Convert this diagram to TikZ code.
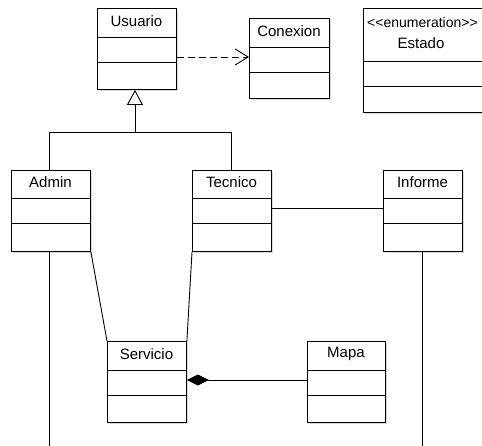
\documentclass[tikz,border=0pt]{standalone}
\usepackage{fontspec}
\setmainfont{Liberation Sans}
\newfontfamily\rawsans{Liberation Sans}[Ligatures=ResetAll]
\usetikzlibrary{arrows.meta,calc}
\tikzset{
  cls/.style={draw=black, line width=0.9pt, fill=white, anchor=north west, inner sep=0pt},
  shadowbox/.style={fill=black!15, draw=none},
  div/.style={line width=0.9pt},
  lbl/.style={font=\fontsize{15}{17}\selectfont, inner sep=0pt, anchor=center},
  conn/.style={line width=0.9pt, draw=black},
}
% \umlcls{name}{x1}{y1}{x2}{y2}{d1}{d2}{label}
\newcommand{\umlcls}[8]{%
  \fill[shadowbox] (#2+2,#3+2) rectangle (#4+2,#5+2);
  \node[cls, minimum width=#4-#2, minimum height=#5-#3] (#1) at (#2,#3) {};
  \draw[div] (#2,#6) -- (#4,#6);
  \draw[div] (#2,#7) -- (#4,#7);
  \node[lbl] (#1-name) at ({(#2+#4)/2},{(#3+#6)/2-1.5}) {#8};
}
\begin{document}
\begin{tikzpicture}[x=1pt,y=-1pt]
\useasboundingbox (0,0) rectangle (482,445);
\clip (0,0) rectangle (482,445);
\fill[white] (0,0) rectangle (482,445);

\umlcls{usuario}{97}{8}{176}{89}{37}{62}{Usuario}
\umlcls{conexion}{249}{18}{329}{98}{47}{72}{Conexion}
% Estado enumeration
\fill[shadowbox] (365,10) rectangle (490,114);
\node[cls, minimum width=125, minimum height=104] (estado) at (363,8) {};
\draw[div] (363,61) -- (488,61);
\draw[div] (363,86) -- (488,86);
\node[lbl, anchor=west, font=\rawsans\fontsize{14}{16}\selectfont] (estado-st) at (367,22) {<<enumeration>>};
\node[lbl] (estado-name) at (421,43) {Estado};

\umlcls{admin}{11}{170}{90}{251}{198}{223}{Admin}
\umlcls{tecnico}{192}{170}{271}{251}{198}{223}{Tecnico}
\umlcls{informe}{383}{170}{462}{251}{198}{223}{Informe}
\umlcls{servicio}{107}{341}{186}{422}{370}{395}{Servicio}
\umlcls{mapa}{307}{341}{385}{422}{370}{395}{Mapa}

% dependency
\draw[conn, dash pattern=on 7pt off 4pt, -{Straight Barb[length=13pt,width=16pt,line width=0.9pt]}]
  (usuario.east |- 0,57) -- (conexion.west |- 0,57);

% generalization
\coordinate (junc) at (135,132);
\coordinate (adminTop) at (49,170);
\coordinate (tecTop) at (231,170);
\draw[conn] (adminTop) |- (junc);
\draw[conn] (tecTop) |- (junc);
\draw[conn, -{Triangle[open, length=15pt, width=16pt, line width=0.9pt, fill=white]}] (junc) -- (usuario.south -| junc);

% association Tecnico - Informe
\draw[conn] (tecnico.east |- 0,208) -- (informe.west |- 0,208);

% Admin / Tecnico - Servicio
\draw[conn] (admin.south east) -- (servicio.north west);
\draw[conn] (tecnico.south west) -- (servicio.north east);

% composition
\draw[conn, {Diamond[length=22pt,width=11pt]}-] (servicio.east |- 0,380) -- (mapa.west |- 0,380);

% lines leaving the bottom
\coordinate (adminOut) at (49,450);
\coordinate (informeOut) at (422,450);
\draw[conn] (admin.south -| adminOut) -- (adminOut);
\draw[conn] (informe.south -| informeOut) -- (informeOut);
\end{tikzpicture}
\end{document}
